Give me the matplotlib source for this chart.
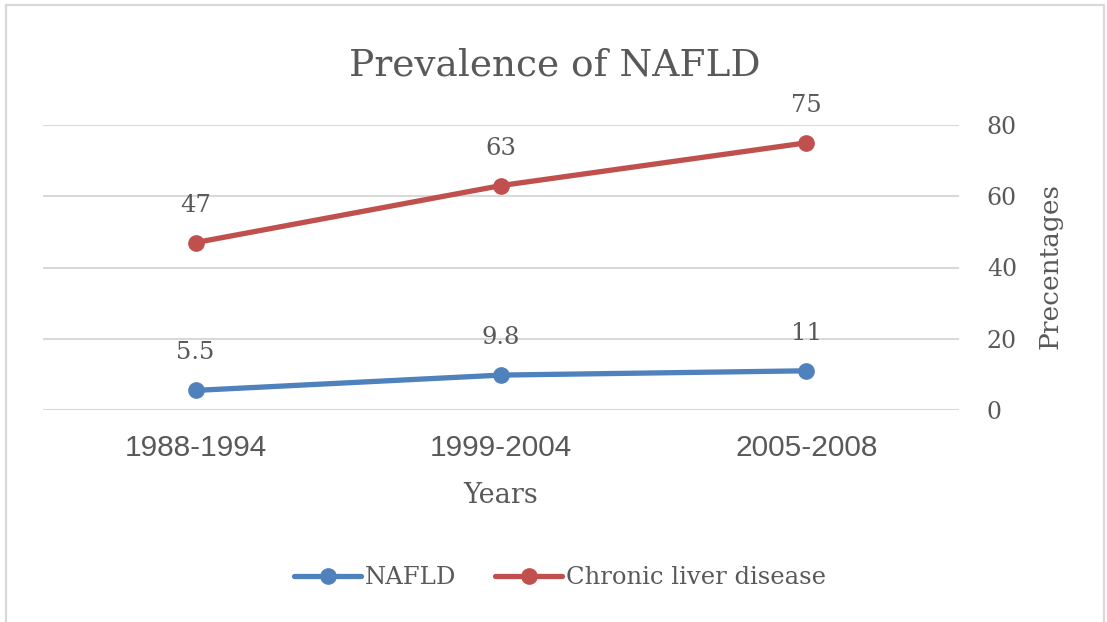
import matplotlib
matplotlib.use("Agg")
import matplotlib.pyplot as plt
from matplotlib.lines import Line2D
from matplotlib.patches import Rectangle

# ---- data ----
categories = ["1988-1994", "1999-2004", "2005-2008"]
nafld = [5.5, 9.8, 11]
chronic = [47, 63, 75]
nafld_labels = ["5.5", "9.8", "11"]
chronic_labels = ["47", "63", "75"]
yticks = [0, 20, 40, 60, 80]

W, H = 1107, 622
fig = plt.figure(figsize=(W / 100, H / 100), dpi=100)
fig.patch.set_facecolor("white")

SERIF = ["DejaVu Serif"]
SANS = ["Liberation Sans Narrow", "Liberation Sans", "DejaVu Sans"]
TXT = "#595959"
BLUE = "#4F81BD"
RED = "#C0504D"
GRID = "#D9D9D9"

# outer chart border
fig.add_artist(Rectangle((6 / W, -0.05), (1104 - 6) / W, 1.05 - 5 / H,
                         transform=fig.transFigure, fill=False,
                         edgecolor="#D9D9D9", lw=1.6))

left, right, top, bottom = 43, 959, 125, 410
ax = fig.add_axes([left / W, 1 - bottom / H, (right - left) / W, (bottom - top) / H])
x = list(range(len(categories)))
ax.set_xlim(-0.5, len(categories) - 0.5)
ax.set_ylim(0, 80)

for s in ax.spines.values():
    s.set_visible(False)
ax.set_yticks(yticks)
ax.yaxis.grid(True, color=GRID, lw=1.5)
ax.set_axisbelow(True)
ax.yaxis.tick_right()
ax.tick_params(axis="both", length=0)
ax.tick_params(axis="y", pad=20, labelsize=17, labelcolor=TXT)
for lab in ax.get_yticklabels():
    lab.set_family(SERIF)
    lab.set_horizontalalignment("left")
ax.set_xticks(x, categories)
ax.tick_params(axis="x", pad=17, labelsize=21.5, labelcolor=TXT)
for lab in ax.get_xticklabels():
    lab.set_family(SANS)

for vals, labs, col in [(nafld, nafld_labels, BLUE), (chronic, chronic_labels, RED)]:
    ax.plot(x, vals, color=col, lw=3.8, marker="o", ms=11, clip_on=False,
            solid_capstyle="round", zorder=3)
    for xi, v, t in zip(x, vals, labs):
        ax.annotate(t, (xi, v), xytext=(0, 27), textcoords="offset points",
                    ha="center", va="center", fontsize=17.5, color=TXT, family=SERIF)

fig.text(555 / W, 1 - 75 / H, "Prevalence of NAFLD", ha="center", va="baseline",
         fontsize=27, color=TXT, family=SERIF)
fig.text(501 / W, 1 - 503 / H, "Years", ha="center", va="baseline",
         fontsize=19.5, color=TXT, family=SERIF)
fig.text(1050 / W, 1 - 266 / H, "Precentages", ha="center", va="center",
         rotation=90, fontsize=19, color=TXT, family=SERIF)

handles = [Line2D([], [], color=BLUE, lw=3.8, marker="o", ms=11, solid_capstyle="round"),
           Line2D([], [], color=RED, lw=3.8, marker="o", ms=11, solid_capstyle="round")]
fig.legend(handles, ["NAFLD", "Chronic liver disease"], loc="center",
           bbox_to_anchor=(560 / W, 1 - 578 / H), ncol=2, frameon=False,
           prop={"family": SERIF, "size": 17.5}, labelcolor=TXT,
           handlelength=2.75, handletextpad=0.15, columnspacing=1.6)

fig.savefig("out.png", dpi=100, facecolor="white")
